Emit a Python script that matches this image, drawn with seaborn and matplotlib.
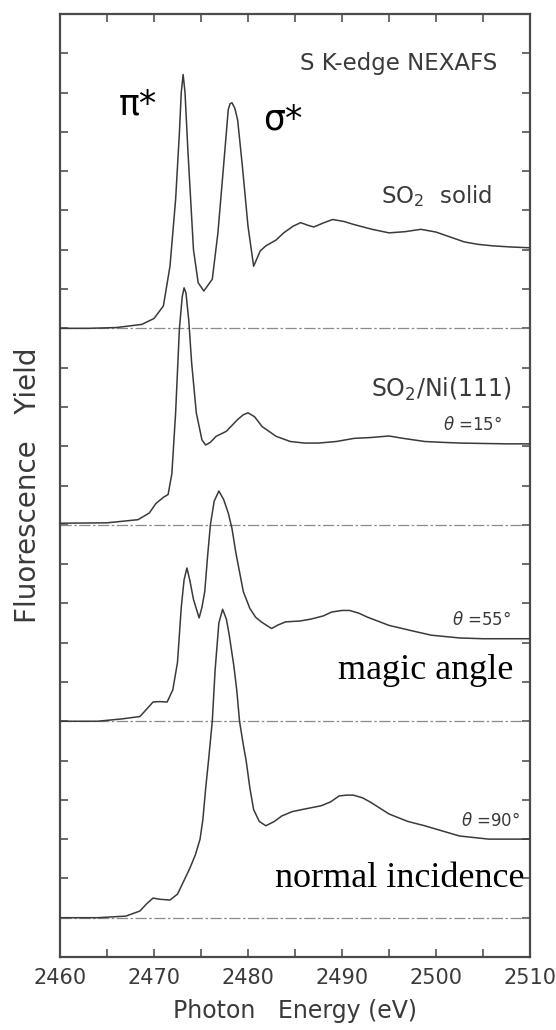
import matplotlib
matplotlib.use("Agg")
import numpy as np
import pandas as pd
import matplotlib.pyplot as plt
import seaborn as sns
from matplotlib.ticker import MultipleLocator, NullFormatter

# ---------------- data ----------------
energy_solid = [2460, 2463, 2466, 2468.7, 2470, 2471, 2471.7, 2472.3, 2472.7, 2472.9,
                2473.1, 2473.3, 2473.6, 2474.2, 2474.7, 2475.3, 2476.2, 2476.8, 2477.4,
                2477.9, 2478.1, 2478.3, 2478.6, 2478.9, 2479.4, 2480.0, 2480.6, 2481.3,
                2481.9, 2483.0, 2483.8, 2484.8, 2485.6, 2486.4, 2487.0, 2488.0, 2489.0,
                2490.2, 2491.3, 2493.2, 2495.0, 2496.7, 2498.4, 2500.0, 2501.8, 2503.0,
                2504.4, 2506.0, 2508.0, 2510]
yield_solid = [0, 0, 0.02, 0.1, 0.25, 0.57, 1.58, 3.28, 4.97, 6.0,
               6.46, 6.0, 4.55, 2.0, 1.16, 0.95, 1.25, 2.43, 4.13,
               5.57, 5.72, 5.74, 5.6, 5.3, 4.13, 2.6, 1.58, 1.97,
               2.1, 2.25, 2.43, 2.6, 2.69, 2.62, 2.58, 2.68, 2.77,
               2.72, 2.64, 2.52, 2.43, 2.46, 2.52, 2.45, 2.3, 2.2,
               2.14, 2.1, 2.07, 2.05]

energy_15 = [2460, 2465, 2468.3, 2469.5, 2470.2, 2471.0, 2471.5, 2471.9, 2472.3, 2472.7,
             2473.0, 2473.2, 2473.4, 2473.7, 2474.0, 2474.5, 2475.1, 2475.5, 2476.0,
             2476.6, 2477.7, 2478.9, 2479.5, 2480.0, 2480.7, 2481.5, 2483.0, 2484.5,
             2486.0, 2487.5, 2489.4, 2491.3, 2493.0, 2495.0, 2496.5, 2498.8, 2500.5,
             2502.6, 2505, 2507.5, 2510]
yield_15 = [0.04, 0.05, 0.13, 0.3, 0.54, 0.7, 0.77, 1.3, 2.85, 4.98,
            5.8, 6.03, 5.9, 5.2, 4.13, 2.85, 2.16, 2.03, 2.1,
            2.25, 2.38, 2.68, 2.8, 2.85, 2.75, 2.5, 2.25, 2.12,
            2.08, 2.08, 2.12, 2.2, 2.22, 2.26, 2.2, 2.12, 2.1,
            2.08, 2.07, 2.06, 2.06]

energy_55 = [2460, 2464, 2466.6, 2468.5, 2469.0, 2469.9, 2470.6, 2471.4, 2472.0, 2472.5,
             2472.9, 2473.2, 2473.5, 2473.8, 2474.2, 2474.8, 2475.1, 2475.4, 2475.7,
             2476.0, 2476.4, 2476.9, 2477.4, 2477.9, 2478.3, 2478.7, 2479.1, 2479.5,
             2480.2, 2480.8, 2481.4, 2482.5, 2483.2, 2484.0, 2485.5, 2486.7, 2488.0,
             2488.9, 2490.0, 2490.8, 2491.8, 2492.7, 2495.0, 2497.3, 2499.5, 2502.5,
             2505, 2508, 2510]
yield_55 = [0, 0, 0.06, 0.12, 0.25, 0.49, 0.5, 0.49, 0.8, 1.5,
            2.9, 3.6, 3.9, 3.6, 3.1, 2.63, 2.9, 3.3, 4.2,
            5.0, 5.6, 5.86, 5.65, 5.3, 4.9, 4.3, 3.8, 3.3,
            2.87, 2.65, 2.53, 2.36, 2.45, 2.53, 2.55, 2.6, 2.68,
            2.78, 2.82, 2.82, 2.75, 2.65, 2.44, 2.31, 2.19, 2.12,
            2.1, 2.1, 2.1]

energy_90 = [2460, 2464, 2467.0, 2468.5, 2469.2, 2469.9, 2470.6, 2471.7, 2472.5, 2473.0,
             2473.8, 2474.4, 2474.9, 2475.2, 2475.5, 2475.8, 2476.2, 2476.5, 2476.9,
             2477.3, 2477.7, 2478.0, 2478.5, 2478.8, 2479.1, 2479.5, 2479.8, 2480.2,
             2480.6, 2481.2, 2481.9, 2482.8, 2483.6, 2484.7, 2485.9, 2487.8, 2488.8,
             2489.7, 2490.5, 2491.2, 2492.2, 2493.1, 2495.0, 2497.0, 2498.8, 2500.5,
             2502.5, 2505.6, 2508, 2510]
yield_90 = [0, 0, 0.04, 0.17, 0.35, 0.5, 0.47, 0.45, 0.6, 0.85,
            1.25, 1.6, 2.0, 2.5, 3.3, 4.0, 5.0, 6.3, 7.5,
            7.85, 7.6, 7.2, 6.4, 5.8, 5.0, 4.4, 4.0, 3.3,
            2.75, 2.45, 2.34, 2.45, 2.59, 2.7, 2.76, 2.85, 2.95,
            3.1, 3.12, 3.12, 3.05, 2.93, 2.64, 2.45, 2.34, 2.22,
            2.08, 2.0, 2.0, 2.0]

spectra_names = ["SO2 solid", "theta=15", "theta=55", "theta=90"]
offsets = [16, 11, 6, 1]
x_tick_labels = [2460, 2470, 2480, 2490, 2500, 2510]

# ---------------- style ----------------
sns.set_theme(style="ticks")
plt.rcParams["font.family"] = ["DejaVu Sans"]
plt.rcParams["mathtext.default"] = "regular"

ink = "#3a3a3a"
fig = plt.figure(figsize=(5.56, 10.30), dpi=100)
ax = fig.add_axes([60 / 556, 73 / 1030, 470 / 556, 943 / 1030])

series = [(energy_solid, yield_solid), (energy_15, yield_15),
          (energy_55, yield_55), (energy_90, yield_90)]
frames = []
for name, (e, v), off in zip(spectra_names, series, offsets):
    frames.append(pd.DataFrame({"energy": e,
                                "signal": np.asarray(v) + off,
                                "spectrum": name}))
df = pd.concat(frames, ignore_index=True)

for off in offsets:
    ax.axhline(off, color="#8a8a8a", lw=0.9, ls=(0, (9, 2, 2, 2)), zorder=1)

for name in spectra_names:
    sub = df[df["spectrum"] == name]
    sns.lineplot(data=sub, x="energy", y="signal", ax=ax, color=ink, lw=1.1,
                 estimator=None, sort=False, zorder=3)

ax.set_xlim(2460, 2510)
ax.set_ylim(0, 24)
ax.set_xticks(x_tick_labels)
ax.set_xticklabels([str(t) for t in x_tick_labels])
ax.xaxis.set_minor_locator(MultipleLocator(5))
ax.yaxis.set_major_locator(MultipleLocator(1))
ax.yaxis.set_major_formatter(NullFormatter())
ax.tick_params(axis="both", which="both", direction="in", length=6, width=1.1,
               color="#444444", top=True, right=True)
ax.tick_params(axis="x", which="major", labelsize=15, pad=8, labelcolor=ink)
ax.tick_params(axis="y", which="both", left=True, right=True, labelleft=False)
for sp in ax.spines.values():
    sp.set_color("#4a4a4a")
    sp.set_linewidth(1.6)

ax.set_xlabel("Photon   Energy (eV)", fontsize=17, color=ink, labelpad=8)
ax.set_ylabel("Fluorescence   Yield", fontsize=20, color=ink, labelpad=13)

# ---------------- annotations ----------------
ax.text(2506.5, 22.75, "S K-edge NEXAFS", fontsize=16.5, color=ink,
        ha="right", va="center")
ax.text(2466.2, 21.44, "π*", fontsize=25, color="black", ha="left", va="baseline")
ax.text(2481.6, 21.06, "σ*", fontsize=25, color="black", ha="left", va="baseline")
ax.text(2506.0, 19.18, "SO$_{2}$  solid", fontsize=16.5, color=ink,
        ha="right", va="baseline")
ax.text(2508.0, 14.27, "SO$_{2}$/Ni(111)", fontsize=17, color=ink,
        ha="right", va="baseline")
ax.text(2507.1, 13.42, r"$\mathit{\theta}$ =15°", fontsize=12, color=ink,
        ha="right", va="baseline")
ax.text(2508.0, 8.44, r"$\mathit{\theta}$ =55°", fontsize=12, color=ink,
        ha="right", va="baseline")
ax.text(2508.2, 7.08, "magic angle", fontsize=26, color="black",
        family="Liberation Serif", ha="right", va="baseline")
ax.text(2509.0, 3.34, r"$\mathit{\theta}$ =90°", fontsize=12, color=ink,
        ha="right", va="baseline")
ax.text(2509.4, 1.77, "normal incidence", fontsize=26, color="black",
        family="Liberation Serif", ha="right", va="baseline")

fig.savefig("out.png", dpi=100)
